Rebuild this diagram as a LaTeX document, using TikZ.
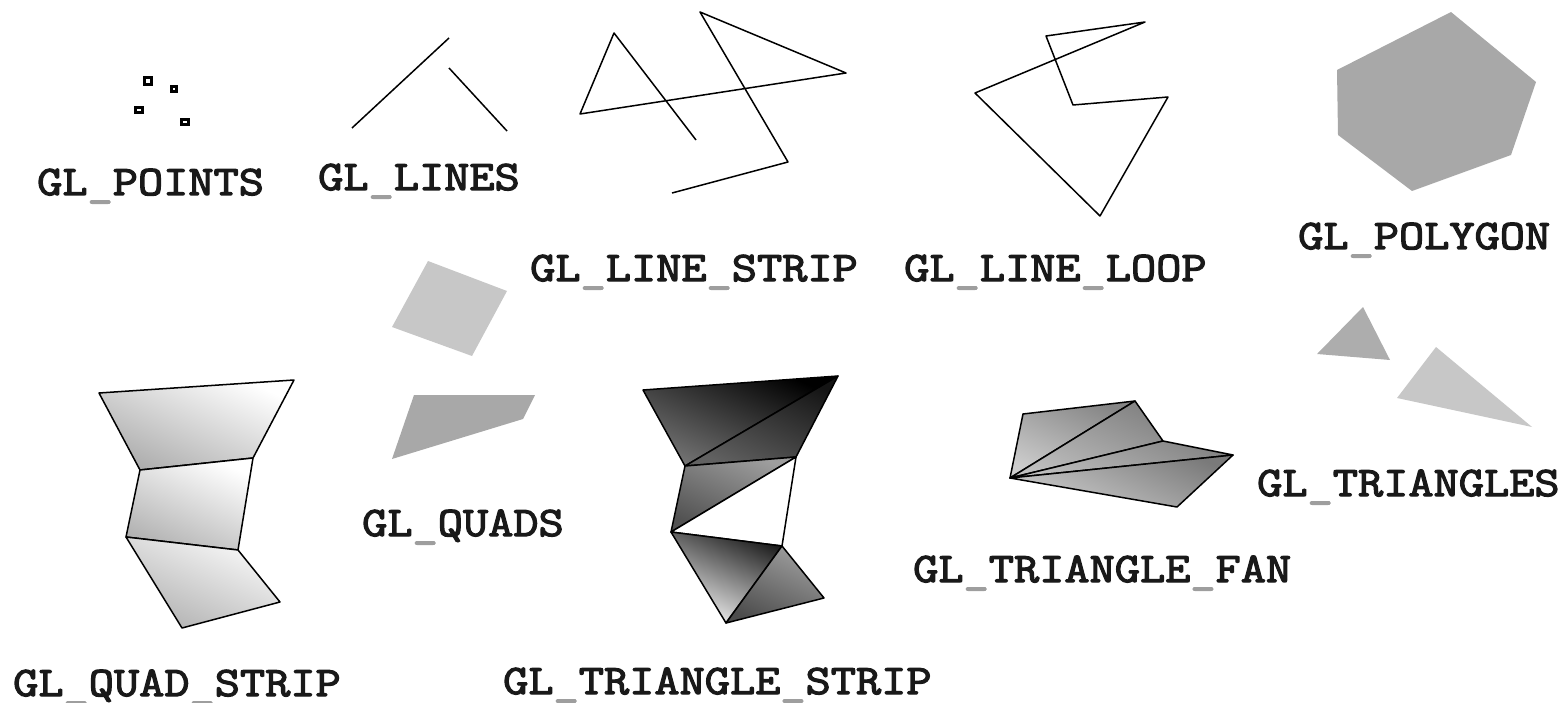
\documentclass[tikz,border=0pt]{standalone}
\usepackage{fontspec}
\newfontfamily\glfont{Latin Modern Mono}[FakeStretch=1.165,FakeBold=3]
\definecolor{usgray}{gray}{0.62}
\newcommand{\us}{\textcolor{usgray}{\_}}
\tikzset{
  lbl/.style={anchor=base west,inner sep=0pt,font=\fontsize{42}{42}\glfont,text=black!90},
  edge/.style={draw=black,line width=1.5pt,line join=round},
  pt/.style={draw=black,line width=2.4pt,fill=white},
  grad/.style n args={3}{top color=black!#2!white,bottom color=black!#1!white,shading angle=#3},
}
\begin{document}
\begin{tikzpicture}[x=1pt,y=-1pt]
\useasboundingbox (0,0) rectangle (1568,703);
% GL_POINTS
\draw[pt] (144.5,77.5) rectangle (151.5,84.5);
\draw[pt] (171.5,86.5) rectangle (176.5,91.5);
\draw[pt] (135.5,107.5) rectangle (142.5,112.5);
\draw[pt] (181.5,119.5) rectangle (188.5,124.5);
\node[lbl] (points) at (37,195) {GL\us POINTS};
% GL_LINES
\coordinate (la) at (352,128); \coordinate (lb) at (449,38);
\coordinate (lc) at (449,68); \coordinate (ld) at (507,131);
\draw[edge] (la) -- (lb); \draw[edge] (lc) -- (ld);
\node[lbl] (lines) at (318,190) {GL\us LINES};
% GL_LINE_STRIP
\draw[edge] (696,140) -- (614,33) -- (580,114) -- (846,73) -- (700,12) -- (788,162) -- (672,193);
\node[lbl] (strip) at (530,281) {GL\us LINE\us STRIP};
% GL_LINE_LOOP
\draw[edge] (1046,36) -- (1145,22) -- (975,93) -- (1100,216) -- (1168,97) -- (1073,105) -- cycle;
\node[lbl] (loop) at (904,281) {GL\us LINE\us LOOP};
% GL_POLYGON
\fill[black!34] (1337,70) -- (1451,12) -- (1536,82) -- (1511,155) -- (1412,191) -- (1338,135) -- cycle;
\node[lbl] (polygon) at (1298,249) {GL\us POLYGON};
% GL_QUADS
\fill[black!22] (428,261) -- (507,291) -- (472,356) -- (392,327) -- cycle;
\fill[black!34] (414,395) -- (535,395) -- (523,419) -- (392,459) -- cycle;
\node[lbl] (quads) at (362,536) {GL\us QUADS};
% GL_TRIANGLES
\fill[black!32] (1363,307) -- (1390,360) -- (1317,354) -- cycle;
\fill[black!22] (1436,347) -- (1532,427) -- (1397,398) -- cycle;
\node[lbl] (triangles) at (1257,496) {GL\us TRIANGLES};
% GL_QUAD_STRIP
\coordinate (q1) at (99,393); \coordinate (q2) at (294,380);
\coordinate (q3) at (140,470); \coordinate (q4) at (253,458);
\coordinate (q5) at (126,537); \coordinate (q6) at (238,550);
\coordinate (q7) at (182,628); \coordinate (q8) at (280,602);
\draw[edge,grad={32}{0}{-25}] (q1) -- (q2) -- (q4) -- (q3) -- cycle;
\draw[edge,grad={30}{0}{-25}] (q3) -- (q4) -- (q6) -- (q5) -- cycle;
\draw[edge,grad={30}{2}{-25}] (q5) -- (q6) -- (q8) -- (q7) -- cycle;
\node[lbl] (qstrip) at (13,696) {GL\us QUAD\us STRIP};
% GL_TRIANGLE_STRIP
\coordinate (t1) at (643,390); \coordinate (t2) at (838,376);
\coordinate (t3) at (685,466); \coordinate (t4) at (796,457);
\coordinate (t5) at (671,532); \coordinate (t6) at (782,546);
\coordinate (t7) at (726,623); \coordinate (t8) at (824,598);
\draw[edge,grad={55}{100}{-25}] (t1) -- (t2) -- (t3) -- cycle;
\draw[edge,grad={62}{92}{-25}] (t3) -- (t2) -- (t4) -- cycle;
\draw[edge,grad={68}{38}{-25}] (t3) -- (t4) -- (t5) -- cycle;
\draw[edge,fill=white] (t5) -- (t4) -- (t6) -- cycle;
\draw[edge,grad={5}{88}{-25}] (t5) -- (t6) -- (t7) -- cycle;
\draw[edge,grad={70}{38}{-25}] (t7) -- (t6) -- (t8) -- cycle;
\node[lbl] (tstrip) at (503,694) {GL\us TRIANGLE\us STRIP};
% GL_TRIANGLE_FAN
\coordinate (f0) at (1010,478); \coordinate (f1) at (1023,414);
\coordinate (f2) at (1135,401); \coordinate (f3) at (1163,441);
\coordinate (f4) at (1233,455); \coordinate (f5) at (1177,507);
\draw[edge,grad={20}{48}{-25}] (f0) -- (f1) -- (f2) -- cycle;
\draw[edge,grad={25}{48}{-25}] (f0) -- (f2) -- (f3) -- cycle;
\draw[edge,grad={25}{48}{-25}] (f0) -- (f3) -- (f4) -- cycle;
\draw[edge,grad={20}{52}{-25}] (f0) -- (f4) -- (f5) -- cycle;
\node[lbl] (tfan) at (913,582) {GL\us TRIANGLE\us FAN};
\end{tikzpicture}
\end{document}
